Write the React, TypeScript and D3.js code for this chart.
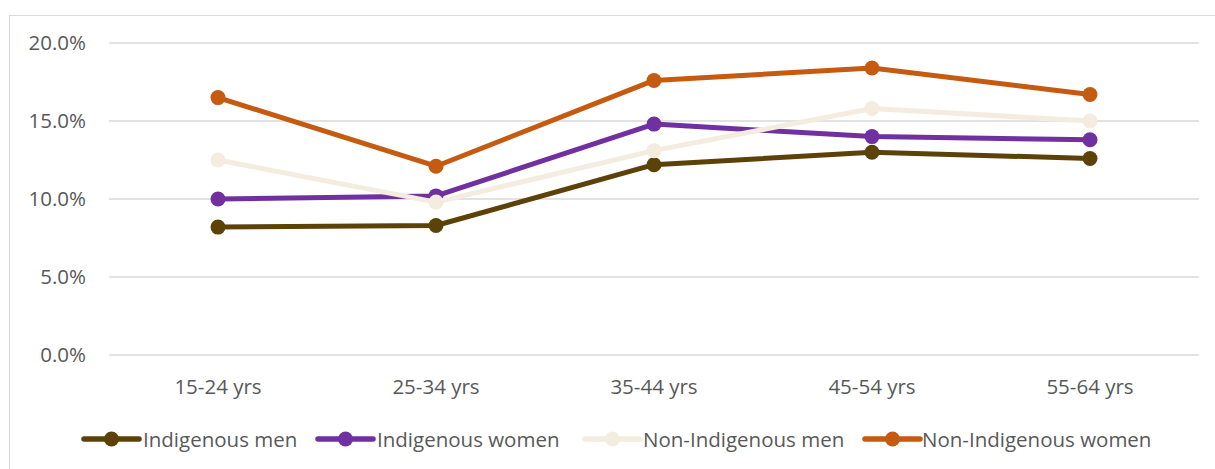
import React from "react";
import * as d3 from "d3";

const categories = ["15-24 yrs", "25-34 yrs", "35-44 yrs", "45-54 yrs", "55-64 yrs"];
const seriesNames = ["Indigenous men", "Indigenous women", "Non-Indigenous men", "Non-Indigenous women"];
const indigenousMen = [8.2, 8.3, 12.2, 13.0, 12.6];
const indigenousWomen = [10.0, 10.2, 14.8, 14.0, 13.8];
const nonIndigenousMen = [12.5, 9.8, 13.1, 15.8, 15.0];
const nonIndigenousWomen = [16.5, 12.1, 17.6, 18.4, 16.7];
const yTicks = [0, 5, 10, 15, 20];
const colors = ["#5C4109", "#7030A0", "#F4ECDF", "#C55A11"];

const W = 1215;
const H = 469;
const FONT = "'Open Sans', 'Noto Sans', sans-serif";

export default function App() {
  const seriesValues = [indigenousMen, indigenousWomen, nonIndigenousMen, nonIndigenousWomen];
  const x = d3.scaleBand<string>().domain(categories).range([109, 1199]);
  const y = d3.scaleLinear().domain([0, 20]).range([355, 43]);
  const cx = (c: string) => (x(c) ?? 0) + x.bandwidth() / 2;
  const line = d3
    .line<number>()
    .x((_, i) => cx(categories[i]))
    .y((v) => y(v));

  const legendItems = [
    { lineX: 84, textX: 143 },
    { lineX: 318, textX: 377 },
    { lineX: 585, textX: 643 },
    { lineX: 865, textX: 922 },
  ];

  return (
    <svg
      width={W}
      height={H}
      style={{ position: "absolute", left: 0, top: 0, background: "#fff" }}
    >
      <rect x={9.5} y={15.5} width={W} height={H} fill="#fff" stroke="#D9D9D9" strokeWidth={1} />
      {yTicks.map((t) => (
        <g key={t}>
          <line x1={109} x2={1199} y1={y(t)} y2={y(t)} stroke="#D9D9D9" strokeWidth={1.3} />
          <text
            x={86}
            y={y(t)}
            dy="0.36em"
            textAnchor="end"
            fontFamily={FONT}
            fontSize={20.5}
            fill="#595959"
          >
            {d3.format(".1f")(t) + "%"}
          </text>
        </g>
      ))}
      {categories.map((c) => (
        <text
          key={c}
          x={cx(c)}
          y={394}
          textAnchor="middle"
          fontFamily={FONT}
          fontSize={20.5}
          fill="#595959"
        >
          {c}
        </text>
      ))}
      {seriesValues.map((vals, si) => (
        <g key={seriesNames[si]}>
          <path
            d={line(vals) ?? ""}
            fill="none"
            stroke={colors[si]}
            strokeWidth={5}
            strokeLinejoin="round"
            strokeLinecap="round"
          />
          {vals.map((v, i) => (
            <circle key={i} cx={cx(categories[i])} cy={y(v)} r={7.5} fill={colors[si]} />
          ))}
        </g>
      ))}
      {seriesNames.map((name, si) => {
        const it = legendItems[si];
        return (
          <g key={name}>
            <line
              x1={it.lineX}
              x2={it.lineX + 55}
              y1={439}
              y2={439}
              stroke={colors[si]}
              strokeWidth={5.5}
              strokeLinecap="round"
            />
            <circle cx={it.lineX + 27.5} cy={439} r={7.5} fill={colors[si]} />
            <text
              x={it.textX}
              y={447}
              fontFamily={FONT}
              fontSize={20.5}
              fill="#595959"
            >
              {name}
            </text>
          </g>
        );
      })}
    </svg>
  );
}
